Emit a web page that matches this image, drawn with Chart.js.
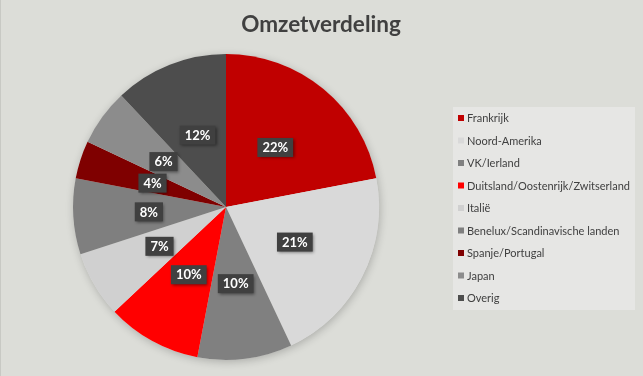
<!DOCTYPE html>
<html lang="nl">
<head>
<meta charset="UTF-8">
<title>Omzetverdeling</title>
<script src="https://cdn.jsdelivr.net/npm/chart.js"></script>
<style>
  html, body { margin: 0; padding: 0; background: #dcddd8; }
  #wrap { width: 643px; height: 376px; }
</style>
<script>
const chartTitle = 'Omzetverdeling';
const regions = ['Frankrijk', 'Noord-Amerika', 'VK/Ierland', 'Duitsland/Oostenrijk/Zwitserland',
  'Italië', 'Benelux/Scandinavische landen', 'Spanje/Portugal', 'Japan', 'Overig'];
const shares = [22, 21, 10, 10, 7, 8, 4, 6, 12];
const sliceColors = ['#c00000', '#d9d9d9', '#808080', '#ff0000', '#d0d0d0', '#7f7f7f', '#7f0000', '#8c8c8c', '#4d4d4d'];

const FONT = 'Lato, "Open Sans", sans-serif';

// title, legend box and the dark percentage labels
const decorPlugin = {
  id: 'decor',
  beforeDatasetsDraw(chart) {
    const ctx = chart.ctx;
    ctx.save();
    ctx.fillStyle = '#c8c9c4';
    ctx.fillRect(0, 0, 1, 376);
    ctx.fillStyle = '#404040';
    ctx.font = 'bold 22.5px ' + FONT;
    ctx.textAlign = 'center';
    ctx.textBaseline = 'middle';
    ctx.fillText(chartTitle, 321, 25);

    // legend
    ctx.fillStyle = '#e6e6e4';
    ctx.fillRect(453, 107, 182, 203);
    ctx.font = '11px ' + FONT;
    ctx.textAlign = 'left';
    regions.forEach((name, i) => {
      const y = 118 + i * 22.5;
      ctx.fillStyle = sliceColors[i];
      ctx.fillRect(458, y - 3, 6, 6);
      ctx.fillStyle = '#404040';
      ctx.fillText(name, 467, y + 0.5);
    });
    ctx.restore();

    // shadow for pie
    ctx.save();
    ctx.shadowColor = 'rgba(0,0,0,0.22)';
    ctx.shadowBlur = 8;
    ctx.shadowOffsetX = 1;
    ctx.shadowOffsetY = 2;
    const arc = chart.getDatasetMeta(0).data[0];
    ctx.fillStyle = '#dcddd8';
    ctx.beginPath();
    ctx.arc(arc.x, arc.y, arc.outerRadius, 0, Math.PI * 2);
    ctx.fill();
    ctx.restore();
  },
  afterDatasetsDraw(chart) {
    const ctx = chart.ctx;
    const meta = chart.getDatasetMeta(0);
    ctx.save();
    ctx.font = 'bold 13px ' + FONT;
    ctx.textAlign = 'center';
    ctx.textBaseline = 'middle';
    meta.data.forEach((arc, i) => {
      const mid = (arc.startAngle + arc.endAngle) / 2;
      const r = arc.outerRadius * 0.505;
      const x = arc.x + Math.cos(mid) * r;
      const y = arc.y + Math.sin(mid) * r;
      const txt = shares[i] + '%';
      const w = ctx.measureText(txt).width + 10;
      const h = 19;
      ctx.save();
      ctx.shadowColor = 'rgba(0,0,0,0.45)';
      ctx.shadowBlur = 3;
      ctx.shadowOffsetX = 1.5;
      ctx.shadowOffsetY = 1.5;
      ctx.fillStyle = '#404040';
      ctx.fillRect(x - w / 2, y - h / 2, w, h);
      ctx.restore();
      ctx.fillStyle = '#ffffff';
      ctx.fillText(txt, x, y + 0.5);
    });
    ctx.restore();
  }
};

document.addEventListener('DOMContentLoaded', () => {
  const ctx = document.getElementById('pieChart').getContext('2d');
  new Chart(ctx, {
    type: 'pie',
    data: {
      labels: regions,
      datasets: [{
        data: shares,
        backgroundColor: sliceColors,
        borderWidth: 0
      }]
    },
    options: {
      responsive: false,
      animation: false,
      layout: { padding: { left: 73, right: 264, top: 54, bottom: 16 } },
      plugins: {
        legend: { display: false },
        title: { display: false },
        tooltip: { enabled: false }
      }
    },
    plugins: [decorPlugin]
  });
});
</script>
</head>
<body>
<div id="wrap"><canvas id="pieChart" width="643" height="376"></canvas></div>
</body>
</html>
